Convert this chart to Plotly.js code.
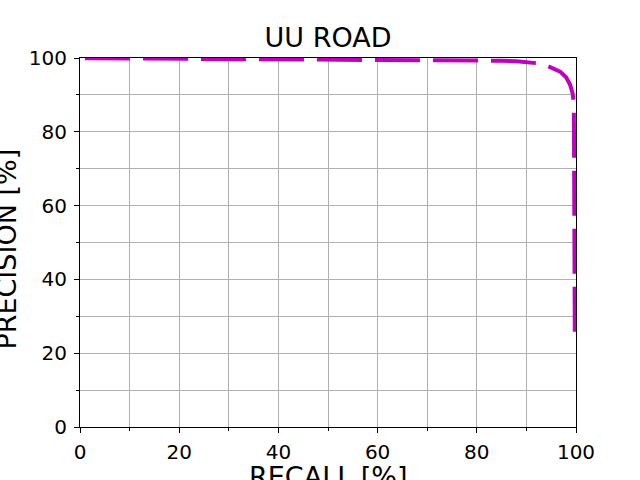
<!DOCTYPE html>
<html>
<head>
<meta charset="utf-8">
<script src="https://cdn.plot.ly/plotly-3.0.1.min.js"></script>
<style>html,body{margin:0;padding:0;background:#fff;}#chart{width:640px;height:480px;}</style>
</head>
<body>
<div id="chart"></div>
<script>
const recall = [1, 10, 20, 30, 40, 50, 60, 70, 80, 85, 88, 90, 92, 94, 95.5, 96.8, 98, 98.8, 99.3, 99.55, 99.6, 99.65, 99.7, 99.73, 99.76];
const precision = [99.95, 99.9, 99.85, 99.8, 99.7, 99.6, 99.5, 99.45, 99.35, 99.25, 99.1, 98.95, 98.6, 98.0, 97.2, 96.3, 94.8, 92.8, 90.5, 88, 78, 65, 50, 37, 25];
const titleText = "UU ROAD";
const xTitle = "RECALL [%]";
const yTitle = "PRECISION [%]";

const trace = {
  x: recall, y: precision, type: 'scatter', mode: 'lines',
  line: {color: '#bf00bf', width: 4, dash: '45px,13px'},
  hoverinfo: 'skip'
};
const axisCommon = {
  range: [0, 100], dtick: 20, tick0: 0,
  showline: true, linecolor: '#000', linewidth: 1, mirror: true,
  ticks: 'outside', ticklen: 5, tickwidth: 1, tickcolor: '#000',
  showgrid: true, gridcolor: '#b0b0b0', gridwidth: 1,
  zeroline: false,
  tickfont: {family: 'DejaVu Sans', size: 20, color: '#000'},
  minor: {dtick: 10, ticks: 'outside', ticklen: 3, tickcolor: '#000', showgrid: true, gridcolor: '#b0b0b0', gridwidth: 1},
  fixedrange: true,
  automargin: false
};
const titleFont = {family: 'DejaVu Sans', size: 27, color: '#000'};
const layout = {
  width: 640, height: 480,
  margin: {l: 80, r: 64, t: 58, b: 53, pad: 0},
  paper_bgcolor: '#fff', plot_bgcolor: '#fff',
  showlegend: false,
  font: {family: 'DejaVu Sans', color: '#000'},
  title: {text: titleText, font: titleFont, x: 0.5, xref: 'paper', y: 1 - 38/480, yref: 'container', yanchor: 'middle'},
  xaxis: Object.assign({}, axisCommon, {ticklabelstandoff: 2}),
  yaxis: Object.assign({}, axisCommon, {ticklabelstandoff: 3}),
  annotations: [
    {text: xTitle, xref: 'paper', yref: 'paper', x: 0.5, y: -0.087, xanchor: 'center', yanchor: 'top', showarrow: false, font: titleFont},
    {text: yTitle, xref: 'paper', yref: 'paper', x: -0.113, y: 0.482, xanchor: 'right', yanchor: 'middle', textangle: -90, showarrow: false, font: titleFont}
  ]
};
Plotly.newPlot('chart', [trace], layout, {displayModeBar: false, staticPlot: true});
</script>
</body>
</html>
